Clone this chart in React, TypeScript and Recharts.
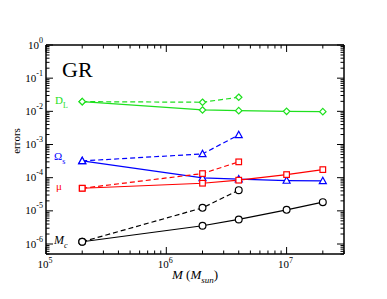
import React from "react";
import { LineChart, Line, XAxis, YAxis } from "recharts";

// masses (M_sun) where errors were computed
const massFull = [2e5, 2e6, 4e6, 1e7, 2e7];
const massShort = [2e5, 2e6, 4e6];

// solid = full run, dashed = short run
const dlSolid = [0.0196, 0.011, 0.0105, 0.01, 0.0098];
const dlDashed = [0.0196, 0.0188, 0.0266];
const omegaSolid = [3.2e-4, 9.8e-5, 9.0e-5, 8.2e-5, 8.0e-5];
const omegaDashed = [3.2e-4, 5.2e-4, 1.95e-3];
const muSolid = [4.8e-5, 6.8e-5, 8.4e-5, 1.24e-4, 1.75e-4];
const muDashed = [4.8e-5, 1.33e-4, 3.0e-4];
const mcSolid = [1.17e-6, 3.55e-6, 5.5e-6, 1.07e-5, 1.83e-5];
const mcDashed = [1.17e-6, 1.23e-5, 4.2e-5];

const xMajor = [1e5, 1e6, 1e7];
const yMajor = [1e-6, 1e-5, 1e-4, 1e-3, 1e-2, 1e-1, 1];

const GREEN = "#1ee01e";
const BLUE = "#0000ff";
const RED = "#ff0000";
const BLACK = "#000000";
const FONT = "'Liberation Serif', 'Times New Roman', serif";

const toPoints = (ms: number[], vs: number[]) =>
  ms.map((m, i) => ({ m, v: vs[i] }));

// decade ticks plus 2..9 minors
function logTicks(lo: number, hi: number) {
  const out: number[] = [];
  for (let e = -7; e <= 8; e++) {
    for (let k = 1; k <= 9; k++) {
      const v = Number((k * Math.pow(10, e)).toPrecision(3));
      if (v >= lo * 0.999 && v <= hi * 1.001) out.push(v);
    }
  }
  return out;
}

const xTicks = logTicks(1e5, 3e7);
const yTicks = logTicks(5e-7, 1);

const isMajor = (v: number, majors: number[]) =>
  majors.some((m) => Math.abs(v / m - 1) < 1e-6);
const expOf = (v: number) => Math.round(Math.log10(v));

const MAJ = 7;
const MIN = 3.5;

function BottomTick(props: any) {
  const { x, y, payload } = props;
  const major = isMajor(payload.value, xMajor);
  return (
    <g>
      <line x1={x} y1={y} x2={x} y2={y - (major ? MAJ : MIN)} stroke="#000" strokeWidth={1} />
      {major && (
        <text x={x - 1} y={y + 14} textAnchor="middle" fontFamily={FONT} fontSize={11} fill="#000">
          10<tspan dy={-5} fontSize={8}>{expOf(payload.value)}</tspan>
        </text>
      )}
    </g>
  );
}

function TopTick(props: any) {
  const { x, y, payload } = props;
  const major = isMajor(payload.value, xMajor);
  return <line x1={x} y1={y} x2={x} y2={y + (major ? MAJ : MIN)} stroke="#000" strokeWidth={1} />;
}

function LeftTick(props: any) {
  const { x, y, payload } = props;
  const major = isMajor(payload.value, yMajor);
  return (
    <g>
      <line x1={x} y1={y} x2={x + (major ? MAJ : MIN)} y2={y} stroke="#000" strokeWidth={1} />
      {major && (
        <text x={x - 3} y={y + 3.5} textAnchor="end" fontFamily={FONT} fontSize={11} fill="#000">
          10<tspan dy={-6} fontSize={8}>{expOf(payload.value)}</tspan>
        </text>
      )}
    </g>
  );
}

function RightTick(props: any) {
  const { x, y, payload } = props;
  const major = isMajor(payload.value, yMajor);
  return <line x1={x} y1={y} x2={x - (major ? MAJ : MIN)} y2={y} stroke="#000" strokeWidth={1} />;
}

type Shape = "diamond" | "triangle" | "square" | "circle";

const makeDot = (shape: Shape, color: string) => (props: any) => {
  const { cx, cy, index } = props;
  if (cx == null || cy == null) return <g key={index} />;
  const s = 3.2;
  const common = { fill: "#fff", stroke: color, strokeWidth: 1.2 };
  if (shape === "circle") return <circle key={index} cx={cx} cy={cy} r={3.4} {...common} />;
  if (shape === "square")
    return <rect key={index} x={cx - 2.8} y={cy - 2.8} width={5.6} height={5.6} {...common} />;
  if (shape === "triangle")
    return (
      <polygon
        key={index}
        points={`${cx},${cy - s - 0.5} ${cx + s + 0.3},${cy + s - 0.5} ${cx - s - 0.3},${cy + s - 0.5}`}
        {...common}
      />
    );
  return (
    <polygon
      key={index}
      points={`${cx},${cy - s} ${cx + s},${cy} ${cx},${cy + s} ${cx - s},${cy}`}
      {...common}
    />
  );
};

const series = [
  { key: "dl-s", data: toPoints(massFull, dlSolid), color: GREEN, shape: "diamond" as Shape, dash: undefined },
  { key: "dl-d", data: toPoints(massShort, dlDashed), color: GREEN, shape: "diamond" as Shape, dash: "5 3" },
  { key: "om-s", data: toPoints(massFull, omegaSolid), color: BLUE, shape: "triangle" as Shape, dash: undefined },
  { key: "om-d", data: toPoints(massShort, omegaDashed), color: BLUE, shape: "triangle" as Shape, dash: "5 3" },
  { key: "mu-s", data: toPoints(massFull, muSolid), color: RED, shape: "square" as Shape, dash: undefined },
  { key: "mu-d", data: toPoints(massShort, muDashed), color: RED, shape: "square" as Shape, dash: "5 3" },
  { key: "mc-s", data: toPoints(massFull, mcSolid), color: BLACK, shape: "circle" as Shape, dash: undefined },
  { key: "mc-d", data: toPoints(massShort, mcDashed), color: BLACK, shape: "circle" as Shape, dash: "5 3" },
];

const axisLine = { stroke: "#000", strokeWidth: 1.5 };

export default function App() {
  return (
    <div style={{ position: "absolute", left: 0, top: 0, width: 387, height: 299, background: "#fff" }}>
      <LineChart width={387} height={299} margin={{ top: 0, right: 0, bottom: 0, left: 0 }}>
        <XAxis
          dataKey="m"
          type="number"
          scale="log"
          domain={[1e5, 3e7]}
          allowDataOverflow
          ticks={xTicks}
          interval={0}
          height={45}
          tickSize={0}
          tickMargin={0}
          tickLine={false}
          axisLine={axisLine}
          tick={BottomTick}
        />
        <XAxis
          xAxisId="top"
          orientation="top"
          dataKey="m"
          type="number"
          scale="log"
          domain={[1e5, 3e7]}
          allowDataOverflow
          ticks={xTicks}
          interval={0}
          height={45}
          tickSize={0}
          tickMargin={0}
          tickLine={false}
          axisLine={axisLine}
          tick={TopTick}
        />
        <YAxis
          type="number"
          scale="log"
          domain={[5e-7, 1]}
          allowDataOverflow
          ticks={yTicks}
          interval={0}
          width={46}
          tickSize={0}
          tickMargin={0}
          tickLine={false}
          axisLine={axisLine}
          tick={LeftTick}
        />
        <YAxis
          yAxisId="right"
          orientation="right"
          type="number"
          scale="log"
          domain={[5e-7, 1]}
          allowDataOverflow
          ticks={yTicks}
          interval={0}
          width={43}
          tickSize={0}
          tickMargin={0}
          tickLine={false}
          axisLine={axisLine}
          tick={RightTick}
        />
        {series.map((s) => (
          <Line
            key={s.key}
            data={s.data}
            dataKey="v"
            type="linear"
            stroke={s.color}
            strokeWidth={1.2}
            strokeDasharray={s.dash}
            dot={makeDot(s.shape, s.color)}
            activeDot={false}
            isAnimationActive={false}
          />
        ))}
      </LineChart>
      <svg
        width={387}
        height={299}
        style={{ position: "absolute", left: 0, top: 0, pointerEvents: "none" }}
        fontFamily={FONT}
      >
        <text x={62} y={77} fontSize={22} fill="#000">GR</text>
        <text x={55} y={104} fontSize={11} fill={GREEN}>
          D<tspan dy={4} fontSize={8}>L</tspan>
        </text>
        <text x={54} y={160} fontSize={11} fill={BLUE}>
          Ω<tspan dy={4} fontSize={8}>s</tspan>
        </text>
        <text x={56} y={190} fontSize={11} fill={RED}>μ</text>
        <text x={54} y={244} fontSize={12} fill="#000" fontStyle="italic">
          M<tspan dy={4} fontSize={8}>c</tspan>
        </text>
        <text x={172} y={279} fontSize={13} fill="#000">
          <tspan fontStyle="italic">M</tspan> (<tspan fontStyle="italic">M</tspan>
          <tspan dy={4} fontSize={9} fontStyle="italic">sun</tspan>
          <tspan dy={-4}>)</tspan>
        </text>
        <text x={19.5} y={141} fontSize={11} fill="#000" textAnchor="middle" transform="rotate(-90 19.5 141)">
          errors
        </text>
      </svg>
    </div>
  );
}
